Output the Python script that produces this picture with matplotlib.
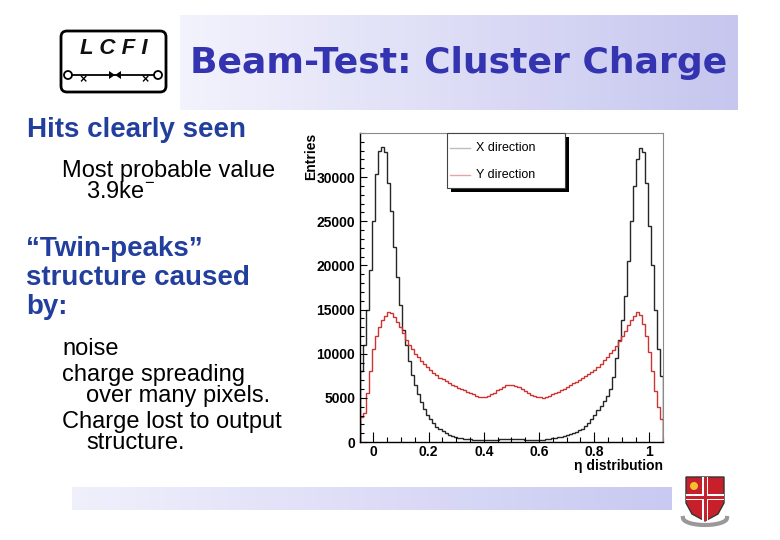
import numpy as np
import matplotlib.pyplot as plt
from matplotlib.colors import LinearSegmentedColormap
from matplotlib.patches import Rectangle, FancyBboxPatch, Polygon, Circle
from matplotlib.lines import Line2D

plt.rcParams['font.family'] = ['Liberation Sans', 'DejaVu Sans']
plt.rcParams['mathtext.fontset'] = 'custom'
plt.rcParams['mathtext.rm'] = 'Liberation Sans'

# eta distribution: 100 bins from -0.05 to 1.05
bin_lo, bin_hi, n_bins = -0.05, 1.05, 100
x_dir = [8000, 11000, 15000, 19500, 25000, 30300, 33000, 33400, 32900, 29300,
         26200, 22100, 18700, 15500, 12700, 11000, 9200, 7600, 6400, 5400,
         4500, 3700, 3100, 2550, 2100, 1750, 1450, 1200, 1000, 830,
         690, 580, 490, 420, 360, 320, 290, 260, 240, 230,
         220, 220, 230, 240, 250, 270, 290, 300, 320, 330,
         330, 320, 300, 290, 270, 250, 240, 230, 220, 230,
         270, 300, 340, 400, 480, 550, 620, 700, 790, 880,
         1000, 1150, 1320, 1500, 1800, 2150, 2600, 3100, 3650, 4100,
         4600, 5200, 6000, 7400, 9500, 11500, 13800, 16500, 20500, 25000,
         29000, 32000, 33300, 32800, 29300, 24500, 20000, 15000, 10500, 7500]
y_dir = [2800, 3300, 5500, 8000, 10500, 12000, 13000, 13800, 14300, 14700,
         14600, 14200, 13600, 13000, 12300, 11600, 11000, 10500, 10000, 9600,
         9200, 8800, 8450, 8100, 7800, 7550, 7300, 7100, 6900, 6700,
         6500, 6300, 6150, 6000, 5850, 5700, 5550, 5400, 5250, 5150,
         5100, 5150, 5250, 5400, 5600, 5850, 6050, 6250, 6400, 6450,
         6450, 6350, 6200, 6000, 5750, 5550, 5350, 5200, 5100, 5050,
         5000, 5100, 5250, 5400, 5550, 5700, 5850, 6000, 6250, 6450,
         6650, 6850, 7050, 7250, 7450, 7650, 7900, 8200, 8500, 8850,
         9250, 9650, 10050, 10450, 10900, 11400, 12000, 12600, 13200, 13800,
         14300, 14700, 14400, 13400, 12000, 10200, 8000, 5800, 4000, 2600]
series_names = ['X direction', 'Y direction']
xticks = [0, 0.2, 0.4, 0.6, 0.8, 1]
xtick_labels = ['0', '0.2', '0.4', '0.6', '0.8', '1']
yticks = [0, 5000, 10000, 15000, 20000, 25000, 30000]

edges = np.linspace(bin_lo, bin_hi, n_bins + 1)

fig = plt.figure(figsize=(7.8, 5.4), dpi=100)
fig.patch.set_facecolor('white')

# slide background layer in pixel coordinates
bg = fig.add_axes([0, 0, 1, 1])
bg.set_axis_off()
grad = np.linspace(0, 1, 256).reshape(1, -1)
banner_cmap = LinearSegmentedColormap.from_list('banner', ['#f3f3fd', '#c6c6ef'])
bg.imshow(grad, cmap=banner_cmap, extent=(180, 738, 110, 15), aspect='auto')
bar_cmap = LinearSegmentedColormap.from_list('bar', ['#f0f0fc', '#c9c9f2'])
bg.imshow(grad, cmap=bar_cmap, extent=(72, 672, 510, 487), aspect='auto')

bg.text(459, 63, 'Beam-Test: Cluster Charge', family='DejaVu Sans', weight='bold',
        fontsize=26, color='#3434b0', ha='center', va='center')

# LCFI logo
bg.add_patch(FancyBboxPatch((61, 31), 105, 61, boxstyle='round,pad=0,rounding_size=6',
                            fc='white', ec='black', lw=2))
bg.text(114, 48, 'L C F I', weight='bold', style='italic', fontsize=16,
        ha='center', va='center', color='#111111')
bg.plot([72, 154], [75, 75], color='black', lw=1.3)
bg.add_patch(Circle((68, 75), 4, fc='white', ec='black', lw=1.3))
bg.add_patch(Circle((158, 75), 4, fc='white', ec='black', lw=1.3))
bg.add_patch(Polygon([[109, 71], [115, 75], [109, 79]], fc='black'))
bg.add_patch(Polygon([[121, 71], [115, 75], [121, 79]], fc='black'))
bg.text(83, 80, '×', fontsize=9, ha='center', va='center', weight='bold')
bg.text(145, 80, '×', fontsize=9, ha='center', va='center', weight='bold')

# left text block
blue = '#223f9e'
bg.text(27, 137, 'Hits clearly seen', weight='bold', fontsize=20, color=blue)
bg.text(62, 177, 'Most probable value', fontsize=17)
bg.text(86, 198, '3.9ke$^{\\mathrm{-}}$', fontsize=17)
bg.text(26, 256, '\u201cTwin-peaks\u201d', weight='bold', fontsize=20, color=blue)
bg.text(26, 285, 'structure caused', weight='bold', fontsize=20, color=blue)
bg.text(26, 314, 'by:', weight='bold', fontsize=20, color=blue)
bg.text(62, 355, 'noise', fontsize=17)
bg.text(62, 381, 'charge spreading', fontsize=17)
bg.text(86, 402, 'over many pixels.', fontsize=17)
bg.text(62, 428, 'Charge lost to output', fontsize=17)
bg.text(86, 449, 'structure.', fontsize=17)

# crest
shield = [[686, 477], [724, 477], [724, 503], [718, 514], [705, 521], [692, 514], [686, 503]]
bg.add_patch(Polygon(shield, fc='#c8202a', ec='#333333', lw=1))
bg.add_patch(Rectangle((702, 477), 6, 44, fc='white', ec='none'))
bg.add_patch(Rectangle((686, 494), 38, 6, fc='white', ec='none'))
bg.add_patch(Rectangle((703.5, 477), 3, 44, fc='#c8202a', ec='none'))
bg.add_patch(Rectangle((686, 495.5), 38, 3, fc='#c8202a', ec='none'))
bg.add_patch(Circle((694, 486), 4, fc='#f0c030', ec='none'))
tt = np.linspace(0, np.pi, 30)
bg.plot(705 - 22 * np.cos(tt), 518 + 7 * np.sin(tt), color='#999999', lw=3)

bg.set_xlim(0, 780)
bg.set_ylim(540, 0)

bg.text(311, 133, 'Entries', rotation=90, weight='bold', fontsize=10, ha='center', va='top')
bg.text(663, 466, '\u03b7 distribution', weight='bold', fontsize=10, ha='right', va='center')

# histogram frame
ax = fig.add_axes([359.5 / 780, 98 / 540, 303.8 / 780, 309 / 540])
ax.stairs(x_dir, edges, color='#262626', lw=1.0)
ax.stairs(y_dir, edges, color='#cc3333', lw=1.0)
ax.set_xlim(bin_lo, bin_hi)
ax.set_ylim(0, 35000)
ax.set_xticks(xticks)
ax.set_xticklabels(xtick_labels)
ax.set_xticks(np.arange(-0.05, 1.06, 0.05), minor=True)
ax.set_yticks(yticks)
ax.set_yticklabels([str(v) for v in yticks])
ax.set_yticks(np.arange(0, 35001, 1000), minor=True)
ax.tick_params(axis='x', which='major', direction='in', length=7, width=0.8, labelsize=10, pad=2)
ax.tick_params(axis='x', which='minor', direction='in', length=3.5, width=0.8)
ax.tick_params(axis='y', which='major', direction='in', length=5, width=0.8, labelsize=10, pad=3)
ax.tick_params(axis='y', which='minor', direction='in', length=3, width=0.8)
for lab in ax.get_xticklabels() + ax.get_yticklabels():
    lab.set_fontweight('bold')
for side in ['top', 'right']:
    ax.spines[side].set_color('#8a8a8a')
    ax.spines[side].set_linewidth(0.8)
for side in ['left', 'bottom']:
    ax.spines[side].set_linewidth(1.0)

# legend box with ROOT style shadow
ax.add_patch(Rectangle((0.300, 0.809), 0.389, 0.178, transform=ax.transAxes,
                       fc='black', ec='none', clip_on=False, zorder=5))
ax.add_patch(Rectangle((0.287, 0.822), 0.389, 0.178, transform=ax.transAxes,
                       fc='white', ec='#444444', lw=0.8, clip_on=False, zorder=6))
legend_colors = ['#bdbdbd', '#e8a4a4']
legend_y = [0.952, 0.865]
for name, col, ly in zip(series_names, legend_colors, legend_y):
    ax.add_line(Line2D([0.298, 0.364], [ly, ly], transform=ax.transAxes, color=col,
                       lw=1.0, zorder=7, clip_on=False))
    ax.text(0.383, ly, name, transform=ax.transAxes, fontsize=9, va='center', zorder=7)

fig.savefig('out.png', dpi=100)
